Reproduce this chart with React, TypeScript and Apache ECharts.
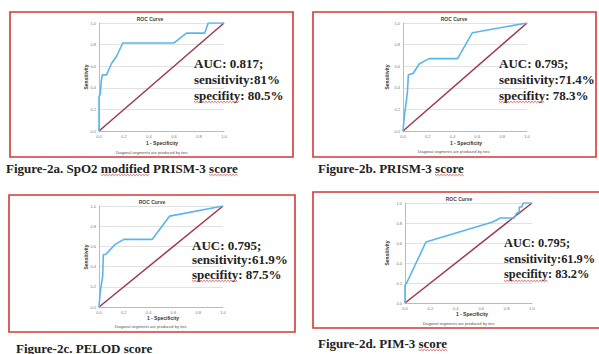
import React, { useEffect, useRef } from "react";
import * as echarts from "echarts";

// ---- data ----
const axisTicks = [0, 0.2, 0.4, 0.6, 0.8, 1.0];

const aFpr = [0, 0, 0.01, 0.019, 0.027, 0.06, 0.1, 0.14, 0.19, 0.6, 0.7, 0.845, 0.874, 1];
const aTpr = [0, 0.32, 0.34, 0.47, 0.52, 0.52, 0.625, 0.69, 0.815, 0.815, 0.906, 0.906, 1, 1];

const bFpr = [0, 0.01, 0.035, 0.043, 0.07, 0.08, 0.13, 0.21, 0.44, 0.56, 1];
const bTpr = [0, 0.13, 0.35, 0.52, 0.53, 0.53, 0.62, 0.67, 0.67, 0.91, 1];

const cFpr = [0, 0.01, 0.03, 0.035, 0.054, 0.13, 0.2, 0.43, 0.57, 1];
const cTpr = [0, 0.15, 0.31, 0.52, 0.52, 0.62, 0.67, 0.67, 0.9, 1];

const dFpr = [0, 0, 0.013, 0.165, 0.69, 0.75, 0.86, 0.88, 0.9, 0.9, 0.92, 0.93, 1];
const dTpr = [0, 0.18, 0.2, 0.61, 0.81, 0.85, 0.85, 0.9, 0.91, 0.96, 0.96, 1, 1];

const diagFpr = [0, 1];
const diagTpr = [0, 1];

const captions = [
  "Figure-2a. SpO2 modified PRISM-3 score",
  "Figure-2b. PRISM-3 score",
  "Figure-2c. PELOD score",
  "Figure-2d. PIM-3 score",
];
const captionMarked = [["modified", "score"], ["score"], ["score"], ["score"]];
const aucLines = [
  ["AUC: 0.817;", "sensitivity:81%", "specifity: 80.5%"],
  ["AUC: 0.795;", "sensitivity:71.4%", "specifity: 78.3%"],
  ["AUC: 0.795;", "sensitivity:61.9%", "specifity: 87.5%"],
  ["AUC: 0.795;", "sensitivity:61.9%", "specifity: 83.2%"],
];
const curves = [
  [aFpr, aTpr],
  [bFpr, bTpr],
  [cFpr, cTpr],
  [dFpr, dTpr],
];

// ---- layout ----
const panels = [
  { grid: { left: 99, top: 23, width: 125, height: 108 }, box: [10, 12, 283, 145], title: [150, 19], xname: [162, 143], note: [152, 152], yname: [86, 77], ann: [194, 63, 16, 13], cap: [6, 168] },
  { grid: { left: 403, top: 23, width: 124, height: 108 }, box: [313, 12, 283, 145], title: [454, 19], xname: [466, 143], note: [454, 151], yname: [387, 77], ann: [499, 63, 16, 13], cap: [318, 168] },
  { grid: { left: 99, top: 206, width: 124, height: 101 }, box: [9, 195, 286, 137], title: [152, 202], xname: [163, 318], note: [151, 326], yname: [86, 257], ann: [192, 245, 14.5, 13], cap: [16, 348] },
  { grid: { left: 405, top: 203, width: 127, height: 100 }, box: [313, 192, 290, 136], title: [459, 199], xname: [472, 314], note: [459, 323], yname: [387, 253], ann: [504, 243, 15.5, 12.4], cap: [318, 343] },
];

const SANS = "Liberation Sans, Arial, sans-serif";
const SERIF = "Liberation Serif, Times New Roman, serif";
const BIG = 13;

function measure(text: string, size: number): number {
  const c = document.createElement("canvas").getContext("2d");
  if (!c) return text.length * size * 0.5;
  c.font = `bold ${size}px ${SERIF}`;
  return c.measureText(text).width;
}

function squiggle(x0: number, x1: number, y: number): any {
  const pts: number[][] = [];
  let up = true;
  for (let x = x0; x <= x1; x += 1.5) {
    pts.push([x, y + (up ? -0.7 : 0.7)]);
    up = !up;
  }
  return {
    type: "polyline",
    shape: { points: pts },
    style: { fill: "none", stroke: "#e04040", lineWidth: 0.8 },
    z: 11,
  };
}

export default function App() {
  const ref = useRef<HTMLDivElement>(null);
  useEffect(() => {
    if (!ref.current) return;
    const chart = echarts.init(ref.current, null, { renderer: "svg" });

    const grids: any[] = [];
    const xAxes: any[] = [];
    const yAxes: any[] = [];
    const series: any[] = [];
    const graphics: any[] = [];

    panels.forEach((p, i) => {
      grids.push({ ...p.grid, containLabel: false });
      const axisCommon = {
        gridIndex: i,
        type: "value",
        min: 0,
        max: 1,
        interval: 0.2,
        axisLine: { show: true, lineStyle: { color: "#bbbbbb", width: 1 } },
        axisTick: { show: false },
        axisLabel: {
          fontSize: 4,
          color: "#777",
          fontFamily: SANS,
          margin: 3,
          customValues: axisTicks,
          formatter: (v: number) => v.toFixed(1),
        },
      };
      xAxes.push({ ...axisCommon, splitLine: { show: false } });
      yAxes.push({ ...axisCommon, splitLine: { show: true, lineStyle: { color: "#e2e2e2", width: 1 } } });

      const [fx, fy] = curves[i];
      series.push({
        type: "line",
        xAxisIndex: i,
        yAxisIndex: i,
        data: fx.map((x, k) => [x, fy[k]]),
        showSymbol: false,
        lineStyle: { color: "#5ab6ea", width: 1.6 },
        z: 3,
      });
      series.push({
        type: "line",
        xAxisIndex: i,
        yAxisIndex: i,
        data: diagFpr.map((x, k) => [x, diagTpr[k]]),
        showSymbol: false,
        lineStyle: { color: "#a5344f", width: 1.5 },
        z: 2,
      });

      const [bx, by, bw, bh] = p.box;
      graphics.push({
        type: "rect",
        shape: { x: bx, y: by, width: bw, height: bh },
        style: { fill: "none", stroke: "#d03a3a", lineWidth: 1.6 },
        z: 1,
      });
      graphics.push({
        type: "text",
        x: p.title[0],
        y: p.title[1],
        style: { text: "ROC Curve", fontSize: 5, fontWeight: "bold", fontFamily: SANS, fill: "#444", align: "center", verticalAlign: "middle" },
      });
      graphics.push({
        type: "text",
        x: p.xname[0],
        y: p.xname[1],
        style: { text: "1 - Specificity", fontSize: 5, fontWeight: "bold", fontFamily: SANS, fill: "#333", align: "center", verticalAlign: "middle" },
      });
      graphics.push({
        type: "text",
        x: p.note[0],
        y: p.note[1],
        style: { text: "Diagonal segments are produced by ties.", fontSize: 4, fontFamily: SANS, fill: "#555", align: "center", verticalAlign: "middle" },
      });
      graphics.push({
        type: "text",
        x: p.yname[0],
        y: p.yname[1],
        rotation: Math.PI / 2,
        style: { text: "Sensitivity", fontSize: 5, fontWeight: "bold", fontFamily: SANS, fill: "#333", align: "center", verticalAlign: "middle" },
      });
      const [ax, ay, dy, fs] = p.ann;
      aucLines[i].forEach((t, k) => {
        graphics.push({
          type: "text",
          x: ax,
          y: ay + k * dy,
          style: { text: t, fontSize: fs, fontWeight: "bold", fontFamily: SERIF, fill: "#222", align: "left", verticalAlign: "middle" },
          z: 10,
        });
      });
      // spell-check underline under "specifity"
      const sw = measure("specifity", fs);
      graphics.push(squiggle(ax, ax + sw, ay + 2 * dy + 7));

      graphics.push({
        type: "text",
        x: p.cap[0],
        y: p.cap[1],
        style: { text: captions[i], fontSize: BIG, fontWeight: "bold", fontFamily: SERIF, fill: "#222", align: "left", verticalAlign: "middle" },
      });
      captionMarked[i].forEach((w) => {
        const idx = captions[i].indexOf(w);
        const s = p.cap[0] + measure(captions[i].slice(0, idx), BIG);
        const e = s + measure(w, BIG);
        graphics.push(squiggle(s, e, p.cap[1] + 7));
      });
    });

    chart.setOption({
      animation: false,
      backgroundColor: "#ffffff",
      grid: grids,
      xAxis: xAxes,
      yAxis: yAxes,
      series,
      graphic: graphics,
    });
    return () => chart.dispose();
  }, []);

  return <div ref={ref} style={{ position: "fixed", left: 0, top: 0, width: 599, height: 354 }} />;
}
